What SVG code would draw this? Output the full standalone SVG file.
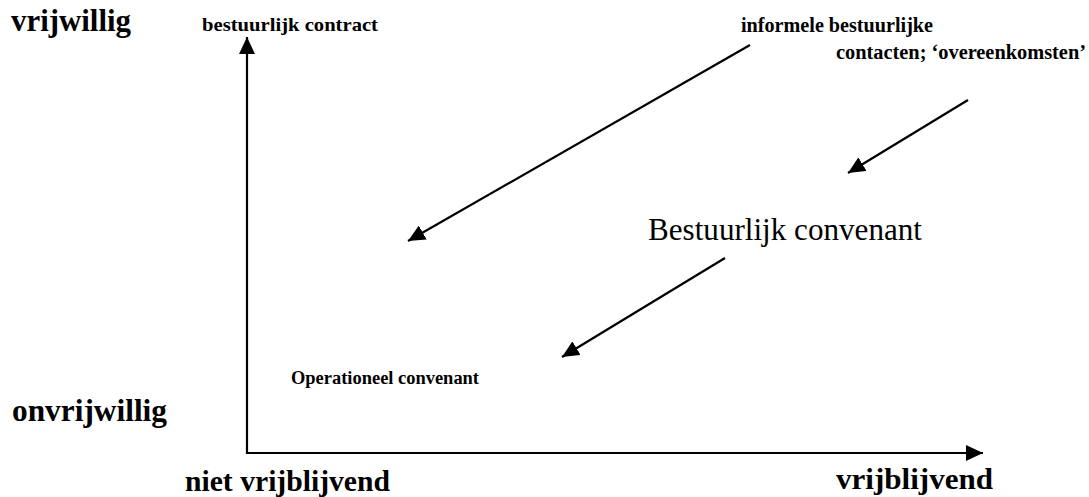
<svg xmlns="http://www.w3.org/2000/svg" width="1089" height="497" viewBox="0 0 1089 497">
<style>
.b{font-family:"Liberation Serif","Times New Roman",serif;font-weight:bold;fill:#000}
.r{font-family:"Liberation Serif","Times New Roman",serif;fill:#000}
.ln{stroke:#000;stroke-width:2.2;fill:none}
</style>
<defs>
<marker id="ah" viewBox="0 0 17 16" refX="17" refY="8" markerWidth="17" markerHeight="16" orient="auto" markerUnits="userSpaceOnUse">
<path d="M0,0 L17,8 L0,16 z" fill="#000"/>
</marker>
</defs>
<rect width="1089" height="497" fill="#fff"/>
<g id="connectors">
<line class="ln" x1="247" y1="454" x2="247" y2="37" marker-end="url(#ah)"/>
<line class="ln" x1="246" y1="453" x2="983" y2="453" marker-end="url(#ah)"/>
<line class="ln" x1="750" y1="45" x2="408" y2="241" marker-end="url(#ah)"/>
<line class="ln" x1="968" y1="100" x2="848" y2="173" marker-end="url(#ah)"/>
<line class="ln" x1="725" y1="258" x2="562" y2="357" marker-end="url(#ah)"/>
</g>
<g id="vrijwillig"><text class="b" x="11" y="31" font-size="31" textLength="120" lengthAdjust="spacingAndGlyphs">vrijwillig</text></g>
<g id="onvrijwillig"><text class="b" x="12" y="421" font-size="31" textLength="155" lengthAdjust="spacingAndGlyphs">onvrijwillig</text></g>
<g id="niet-vrijblijvend"><text class="b" x="185" y="491" font-size="30" textLength="205" lengthAdjust="spacingAndGlyphs">niet vrijblijvend</text></g>
<g id="vrijblijvend"><text class="b" x="836" y="489" font-size="30" textLength="157" lengthAdjust="spacingAndGlyphs">vrijblijvend</text></g>
<g id="bestuurlijk-contract"><text class="b" x="202" y="31" font-size="19" textLength="176" lengthAdjust="spacingAndGlyphs">bestuurlijk contract</text></g>
<g id="informele"><text class="b" x="741" y="32" font-size="20" textLength="192" lengthAdjust="spacingAndGlyphs">informele bestuurlijke</text>
<text class="b" x="836" y="59" font-size="20" textLength="250" lengthAdjust="spacingAndGlyphs">contacten; ‘overeenkomsten’</text></g>
<g id="bestuurlijk-convenant"><text class="r" x="648" y="240" font-size="31" textLength="274" lengthAdjust="spacingAndGlyphs">Bestuurlijk convenant</text></g>
<g id="operationeel-convenant"><text class="b" x="291" y="384" font-size="18.5" textLength="188" lengthAdjust="spacingAndGlyphs">Operationeel convenant</text></g>
</svg>
